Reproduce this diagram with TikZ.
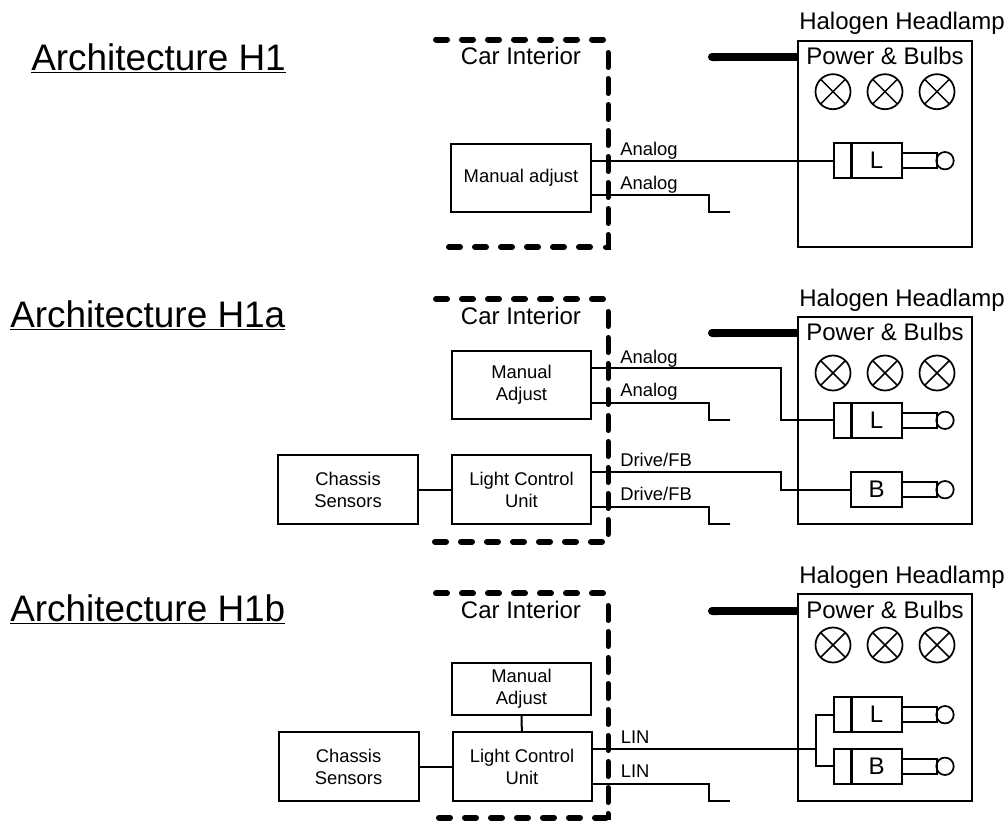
\documentclass[tikz,border=0pt]{standalone}
\usepackage{fontspec}
\usetikzlibrary{arrows.meta}
\setmainfont{Liberation Sans}
\newcommand{\fbig}{\fontsize{18}{18}\selectfont}
\newcommand{\fsmall}{\fontsize{13.8}{16.5}\selectfont}
\newcommand{\ftitle}{\fontsize{27.7}{30}\selectfont}
\tikzset{
  wh/.style 2 args={minimum width=(#1)*0.75pt,minimum height=(#2)*0.75pt},
  boxn/.style={draw=black,line width=1.5pt,rectangle,inner sep=0pt,outer sep=0pt,align=center,font=\fsmall},
  partn/.style={boxn,font=\fbig},
  plugn/.style={draw=black,line width=1.5pt,rectangle,inner sep=0pt,outer sep=0pt,minimum width=35*0.75pt,minimum height=14.5*0.75pt},
  tipn/.style={draw=black,line width=1.3pt,circle,inner sep=0pt,outer sep=0pt,minimum size=17.4*0.75pt},
  lampn/.style={draw=black,line width=1.3pt,circle,inner sep=0pt,outer sep=0pt,minimum size=35*0.75pt,
    path picture={\draw[line width=1.1pt] (path picture bounding box.north west)--(path picture bounding box.south east)
      (path picture bounding box.south west)--(path picture bounding box.north east);}},
  wire/.style={draw=black,line width=1.5pt},
  feed/.style={draw=black,line width=6pt,{Round Cap[]}-},
  borderh/.style={draw=black,line width=4.5pt,line cap=round,dash pattern=on 8.25pt off 11.25pt},
  borderv/.style={draw=black,line width=3.75pt,line cap=round,dash pattern=on 11.25pt off 8.25pt},
  bigtext/.style={anchor=base,inner sep=0pt,font=\fbig},
  wiretext/.style={anchor=base west,inner sep=0pt,font=\fsmall},
  titletext/.style={anchor=base west,inner sep=0pt,font=\ftitle}
}
% prefix, y of title baseline, box top, box bottom, power baseline, lamp y, feed y
\newcommand{\headlamp}[7]{%
  \node[bigtext] (#1title) at (902,#2) {Halogen Headlamp};
  \node[draw=black,line width=1.5pt,rectangle,inner sep=0pt,outer sep=0pt,wh={174}{#4-#3}] (#1box) at (885,{(#3+#4)/2}) {};
  \node[bigtext] (#1power) at (885,#5) {Power \& Bulbs};
  \node[lampn] (#1la) at (833,#6) {};
  \node[lampn] (#1lb) at (885,#6) {};
  \node[lampn] (#1lc) at (937,#6) {};
  \coordinate (#1feed) at (708,#7);
  \draw[feed] (#1feed) -- (#1feed -| #1box.west);
}
% name, letter, y
\newcommand{\bodyunit}[3]{%
  \node[partn,wh={51}{35}] (#1) at (876.5,#3) {#2};
  \node[plugn] (#1p) at (919.5,#3) {};
  \node[tipn] (#1t) at (945,#3) {};
}
\newcommand{\collar}[2]{%
  \node[boxn,wh={18}{35}] (#1) at (842.5,#2) {};
}
\begin{document}
\begin{tikzpicture}[x=0.75pt,y=-0.75pt]
\useasboundingbox (0,0) rectangle (1007,821);
% ---------- H1
\node[titletext] (t1) at (31,70) {\underline{Architecture H1}};
\headlamp{a}{29.5}{40.5}{246.5}{64}{91.7}{57}
\node[bigtext] (aint) at (521,64) {Car Interior};
\collar{acl}{160.7}
\bodyunit{al}{L}{160.7}
\node[boxn,wh={139.5}{68.5}] (aman) at (521,178) {Manual adjust};
\coordinate (aw1) at (709,195);
\coordinate (aw2) at (709,212);
\coordinate (aw3) at (730,212);
\draw[wire] (aman.east |- acl.west) -- (acl.west);
\draw[wire] (aman.east |- aw1) -- (aw1) -- (aw2) -- (aw3);
\node[wiretext] (al1) at (620,155) {Analog};
\node[wiretext] (al2) at (620,189) {Analog};
\draw[borderh] (436,39.5) -- (608,39.5);
\draw[borderv] (608,52.5) -- (608,247) -- (600,247);
\draw[borderh] (449,247) -- (600,247);
% ---------- H1a
\node[titletext] (t2) at (10,327) {\underline{Architecture H1a}};
\headlamp{b}{306}{316.7}{524}{340}{373}{333}
\node[bigtext] (bint) at (521,324) {Car Interior};
\collar{bcl}{420.3}
\bodyunit{bl}{L}{420.3}
\bodyunit{bb}{B}{489.7}
\node[boxn,wh={139}{68.5}] (bman) at (521.5,385) {Manual\\Adjust};
\node[boxn,wh={139}{69}] (blcu) at (521.5,489.5) {Light Control\\Unit};
\node[boxn,wh={139.5}{69}] (bch) at (348,489.5) {Chassis\\Sensors};
\draw[wire] (bch) -- (blcu);
\coordinate (bk1) at (781,368);
\coordinate (bk2) at (709,403);
\coordinate (bk3) at (709,420);
\coordinate (bk4) at (730,420);
\coordinate (bk5) at (781,472);
\coordinate (bk6) at (709,506.7);
\coordinate (bk7) at (709,524.3);
\coordinate (bk8) at (730,524.3);
\draw[wire] (bman.east |- bk1) -- (bk1) -- (bk1 |- bcl.west) -- (bcl.west);
\draw[wire] (bman.east |- bk2) -- (bk2) -- (bk3) -- (bk4);
\draw[wire] (blcu.east |- bk5) -- (bk5) -- (bk5 |- bb.west) -- (bb.west);
\draw[wire] (blcu.east |- bk6) -- (bk6) -- (bk7) -- (bk8);
\node[wiretext] (bl1) at (620,363.3) {Analog};
\node[wiretext] (bl2) at (620,396.7) {Analog};
\node[wiretext] (bl3) at (620,466.7) {Drive/FB};
\node[wiretext] (bl4) at (620,500) {Drive/FB};
\draw[borderh] (436,299) -- (608,299);
\draw[borderv] (608,311.5) -- (608,541.7);
\draw[borderh] (435,541.7) -- (606,541.7);
% ---------- H1b
\node[titletext] (t3) at (10,621) {\underline{Architecture H1b}};
\headlamp{c}{583}{593.7}{801}{618}{645}{611}
\node[bigtext] (cint) at (521,618) {Car Interior};
\collar{ccl}{714.7}
\bodyunit{cl}{L}{714.7}
\collar{ccb}{766.3}
\bodyunit{cb}{B}{766.3}
\node[boxn,wh={139}{52}] (cman) at (521.5,688.7) {Manual\\Adjust};
\node[boxn,wh={139}{69}] (clcu) at (522,766.5) {Light Control\\Unit};
\node[boxn,wh={140}{69}] (cch) at (348.5,766.5) {Chassis\\Sensors};
\draw[wire] (cch) -- (clcu);
\draw[wire] (cman) -- (clcu);
\coordinate (cj) at (816,748.7);
\coordinate (ck1) at (709,783.7);
\coordinate (ck2) at (709,801);
\coordinate (ck3) at (730,801);
\draw[wire] (clcu.east |- cj) -- (cj);
\draw[wire] (ccl.west) -- (ccl.west -| cj) -- (ccb.west -| cj) -- (ccb.west);
\draw[wire] (clcu.east |- ck1) -- (ck1) -- (ck2) -- (ck3);
\node[wiretext] (cl1) at (620.5,743.3) {LIN};
\node[wiretext] (cl2) at (620.5,777.7) {LIN};
\draw[borderh] (436,593.3) -- (608,593.3);
\draw[borderv] (608,605.5) -- (608,817.7) -- (604,817.7);
\draw[borderh] (439,817.7) -- (606,817.7);
\end{tikzpicture}
\end{document}
